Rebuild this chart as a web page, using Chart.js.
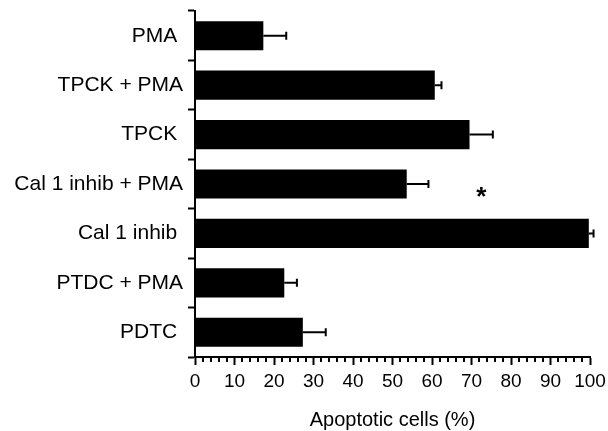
<!DOCTYPE html>
<html>
<head>
<meta charset="utf-8">
<script src="https://cdn.jsdelivr.net/npm/chart.js@4"></script>
<style>
  html, body { margin: 0; padding: 0; background: #fff; }
  #wrap { width: 608px; height: 431px; }
</style>
</head>
<body>
<div id="wrap"><canvas id="apoChart"></canvas></div>
<script>
// trailing spaces copy the label alignment of the original figure
const labels = ['PMA ', 'TPCK + PMA', 'TPCK ', 'Cal 1 inhib + PMA', 'Cal 1 inhib ', 'PTDC + PMA', 'PDTC '];
const means = [17.3, 60.7, 69.5, 53.6, 99.7, 22.6, 27.3];
const errors = [5.8, 1.7, 5.9, 5.5, 1.2, 3.2, 5.8];
const xTicks = [0, 10, 20, 30, 40, 50, 60, 70, 80, 90, 100];
const minorStep = 2;
const star = { index: 3, value: 72.5 };

const FONT = '"Liberation Sans", Arial, Helvetica, sans-serif';

const extras = {
    id: 'extras',
    afterDatasetsDraw(chart) {
        const { ctx, scales: { x, y } } = chart;
        ctx.save();
        ctx.strokeStyle = '#000';
        ctx.lineWidth = 2;
        // error bars (upper side only)
        means.forEach((m, i) => {
            const yc = y.getPixelForValue(i);
            const x0 = x.getPixelForValue(m);
            const x1 = x.getPixelForValue(m + errors[i]);
            ctx.beginPath();
            ctx.moveTo(x0, yc);
            ctx.lineTo(x1, yc);
            ctx.moveTo(x1, yc - 4);
            ctx.lineTo(x1, yc + 4);
            ctx.stroke();
        });
        // minor ticks on the x axis
        const yb = chart.chartArea.bottom;
        for (let v = x.min; v <= x.max; v += minorStep) {
            if (xTicks.includes(v)) continue;
            const px = Math.round(x.getPixelForValue(v));
            ctx.beginPath();
            ctx.moveTo(px, yb);
            ctx.lineTo(px, yb + 5);
            ctx.stroke();
        }
        // significance mark
        ctx.fillStyle = '#000';
        ctx.font = 'bold 26px ' + FONT;
        ctx.textAlign = 'center';
        ctx.textBaseline = 'alphabetic';
        ctx.fillText('*', x.getPixelForValue(star.value), y.getPixelForValue(star.index) + 21);
        ctx.restore();
    }
};

new Chart(document.getElementById('apoChart'), {
    type: 'bar',
    data: {
        labels: labels,
        datasets: [{
            data: means,
            backgroundColor: '#000',
            borderWidth: 0,
            categoryPercentage: 1,
            barPercentage: 0.59
        }]
    },
    options: {
        indexAxis: 'y',
        responsive: true,
        maintainAspectRatio: false,
        animation: false,
        layout: { padding: { top: 11, right: 18, left: 0, bottom: 0 } },
        plugins: {
            legend: { display: false },
            tooltip: { enabled: false }
        },
        scales: {
            x: {
                min: 0,
                max: 100,
                afterBuildTicks: s => { s.ticks = xTicks.map(v => ({ value: v })); },
                afterFit: s => { s.height = 74; s.paddingLeft = 0; s.paddingRight = 0; },
                ticks: {
                    autoSkip: false,
                    maxRotation: 0,
                    color: '#000',
                    padding: 5,
                    font: { family: FONT, size: 19 }
                },
                grid: {
                    drawOnChartArea: false,
                    color: '#000',
                    tickLength: 8,
                    tickWidth: 2
                },
                border: { display: true, color: '#000', width: 2 },
                title: {
                    display: true,
                    text: 'Apoptotic cells (%)',
                    color: '#000',
                    font: { family: FONT, size: 20, lineHeight: 1 },
                    padding: { top: 0, bottom: 1 }
                }
            },
            y: {
                afterFit: s => { s.width = 195; s.paddingTop = 0; s.paddingBottom = 0; },
                ticks: {
                    color: '#000',
                    padding: 5,
                    font: { family: FONT, size: 21 }
                },
                grid: {
                    offset: true,
                    drawOnChartArea: false,
                    color: '#000',
                    tickLength: 7,
                    tickWidth: 2
                },
                border: { display: true, color: '#000', width: 2 }
            }
        }
    },
    plugins: [extras]
});
</script>
</body>
</html>
